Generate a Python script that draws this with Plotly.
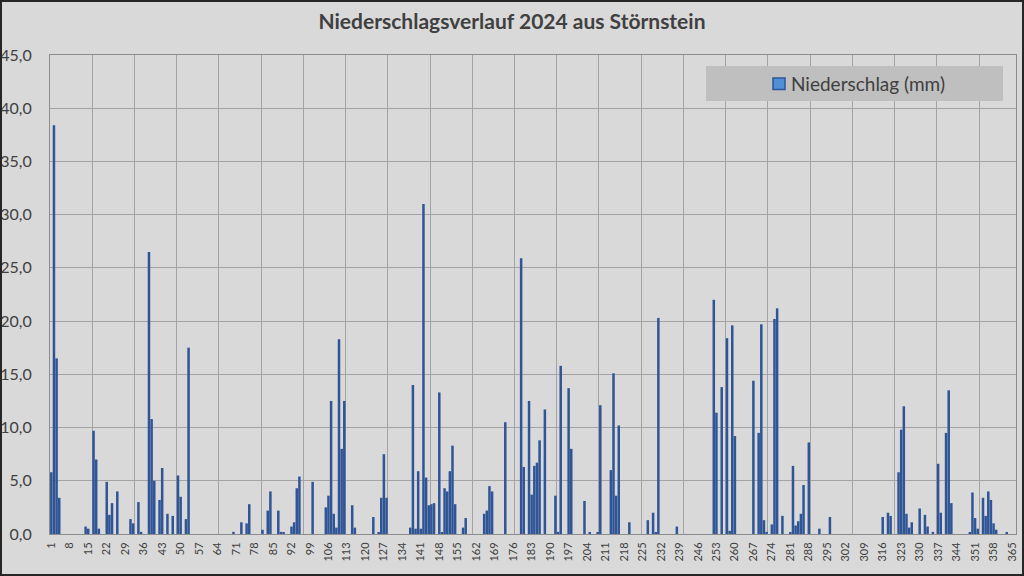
import plotly.graph_objects as go

# ---- data ----
title_text = "Niederschlagsverlauf 2024 aus Störnstein"
series_name = "Niederschlag (mm)"

rain_days = [1, 2, 3, 4, 14, 15, 17, 18, 19, 22, 23, 24, 26, 31, 32, 34, 35,
             38, 39, 40, 42, 43, 45, 47, 49, 50, 52, 53,
             70, 73, 75, 76, 81, 83, 84, 87, 88, 89, 92, 93, 94, 95, 100,
             105, 106, 107, 108, 109, 110, 111, 112, 115, 116, 123, 125, 126, 127, 128,
             137, 138, 139, 140, 141, 142, 143, 144, 145, 146, 148, 149, 150, 151, 152, 153, 154,
             157, 158, 165, 166, 167, 168, 173, 179, 180, 182, 183, 184, 185, 186, 188,
             192, 193, 194, 197, 198, 203, 205, 208, 209, 213, 214, 215, 216, 220,
             227, 229, 230, 231, 238, 252, 253, 255, 257, 258, 259, 260,
             267, 269, 270, 271, 272, 274, 275, 276, 278, 281, 282, 283, 284, 285, 286, 288,
             292, 296, 316, 318, 319, 322, 323, 324, 325, 326, 327, 330, 332, 333, 335,
             337, 338, 340, 341, 342, 349, 350, 351, 352, 354, 355, 356, 357, 358, 359, 363]

rain_mm = [5.8, 38.4, 16.5, 3.4, 0.7, 0.5, 9.7, 7.0, 0.5, 4.9, 1.8, 2.9, 4.0, 1.4, 1.0, 3.0, 0.2,
           26.5, 10.8, 5.0, 3.2, 6.2, 1.9, 1.7, 5.5, 3.5, 1.4, 17.5,
           0.2, 1.1, 1.0, 2.8, 0.4, 2.2, 4.0, 2.2, 0.2, 0.1, 0.7, 1.1, 4.3, 5.4, 4.9,
           2.5, 3.6, 12.5, 1.9, 0.6, 18.3, 8.0, 12.5, 2.7, 0.6, 1.6, 0.1, 3.4, 7.5, 3.4,
           0.6, 14.0, 0.5, 5.9, 0.5, 31.0, 5.3, 2.7, 2.8, 2.9, 13.3, 0.1, 4.3, 4.0, 5.9, 8.3, 2.8,
           0.6, 1.5, 1.9, 2.2, 4.5, 4.0, 10.5, 25.9, 6.3, 12.5, 3.7, 6.4, 6.7, 8.8, 11.7,
           3.6, 0.2, 15.8, 13.7, 8.0, 3.1, 0.1, 0.1, 12.1, 6.0, 15.1, 3.6, 10.2, 1.1,
           1.3, 2.0, 0.1, 20.3, 0.7, 22.0, 11.4, 13.8, 18.4, 0.3, 19.6, 9.2,
           14.4, 9.5, 19.7, 1.3, 0.2, 0.9, 20.2, 21.2, 1.7, 0.1, 6.4, 0.8, 1.2, 1.9, 4.6, 8.6,
           0.5, 1.6, 1.6, 2.0, 1.7, 5.8, 9.8, 12.0, 1.9, 0.6, 1.1, 2.4, 1.8, 0.7, 0.2,
           6.6, 2.0, 9.5, 13.5, 2.9, 0.1, 3.9, 1.5, 0.5, 3.4, 1.7, 4.0, 3.2, 1.0, 0.4, 0.1]

n_days = 366
x_tick_vals = list(range(1, 366, 7))
x_tick_text = [str(v) for v in x_tick_vals]
y_tick_vals = [0, 5, 10, 15, 20, 25, 30, 35, 40, 45]

# ---- styling ----
W, H = 1024, 576
ML, MR, MT, MB = 50, 8, 55, 42
BG = "#d9d9d9"
BAR = "#2f5597"
GRID = "#a3a3a3"
TXT = "#404040"
FONT = "Lato"

pw = W - ML - MR
ph = H - MT - MB

def px_x(px):
    return (px - ML) / pw

def px_y(py):
    return (H - MB - py) / ph

fig = go.Figure()
fig.add_trace(go.Bar(x=rain_days, y=rain_mm, name=series_name, width=0.95,
                     marker=dict(color=BAR, line=dict(width=0)),
                     showlegend=False, hoverinfo="x+y"))

fig.update_layout(
    width=W, height=H,
    margin=dict(l=ML, r=MR, t=MT, b=MB, pad=0),
    paper_bgcolor=BG, plot_bgcolor=BG,
    barmode="overlay",
    separators=",.",
    showlegend=False,
    font=dict(family=FONT, color=TXT),
    title=dict(text="<b>" + title_text + "</b>", x=0.5, xref="container", xanchor="center",
               y=1 - 22 / H, yref="container", yanchor="middle",
               font=dict(family=FONT, size=21, color=TXT)),
    xaxis=dict(range=[0.5, n_days + 0.5], tickmode="array", tickvals=x_tick_vals,
               ticktext=x_tick_text, tickangle=-90, showgrid=False, zeroline=False,
               automargin=False,
               tickfont=dict(family=FONT, size=11, color="#404040"),
               showline=True, linecolor="#8c8c8c", linewidth=1, mirror=True,
               ticks="", ticklabelstandoff=3,
               minor=dict(tickmode="linear", tick0=0.5, dtick=16, showgrid=True,
                          gridcolor=GRID, gridwidth=1, ticks="")),
    yaxis=dict(range=[0, 45], tickmode="array", tickvals=y_tick_vals, tickformat=".1f",
               showgrid=True, gridcolor=GRID, gridwidth=1, zeroline=False,
               automargin=False,
               tickfont=dict(family=FONT, size=16, color="#404040"),
               showline=True, linecolor="#8c8c8c", linewidth=1, mirror=True,
               ticks="", ticklabelstandoff=14),
    shapes=[
        # legend box
        dict(type="rect", xref="paper", yref="paper", layer="above",
             x0=px_x(706), x1=px_x(1003), y0=px_y(101), y1=px_y(66),
             fillcolor="#bfbfbf", line=dict(width=0)),
        # legend swatch
        dict(type="rect", xref="paper", yref="paper", layer="above",
             x0=px_x(773), x1=px_x(785), y0=px_y(89.5), y1=px_y(78),
             fillcolor="#4f8fd6", line=dict(color="#2f5597", width=1.5)),
        # outer frame
        dict(type="rect", xref="paper", yref="paper", layer="above",
             x0=px_x(0), x1=px_x(W), y0=px_y(H), y1=px_y(0),
             fillcolor="rgba(0,0,0,0)", line=dict(color="#262626", width=4)),
    ],
    annotations=[
        dict(text=series_name, xref="paper", yref="paper", x=px_x(789), y=px_y(84),
             xanchor="left", yanchor="middle", showarrow=False,
             font=dict(family=FONT, size=19, color=TXT)),
    ],
)

fig.write_html("out.html")
